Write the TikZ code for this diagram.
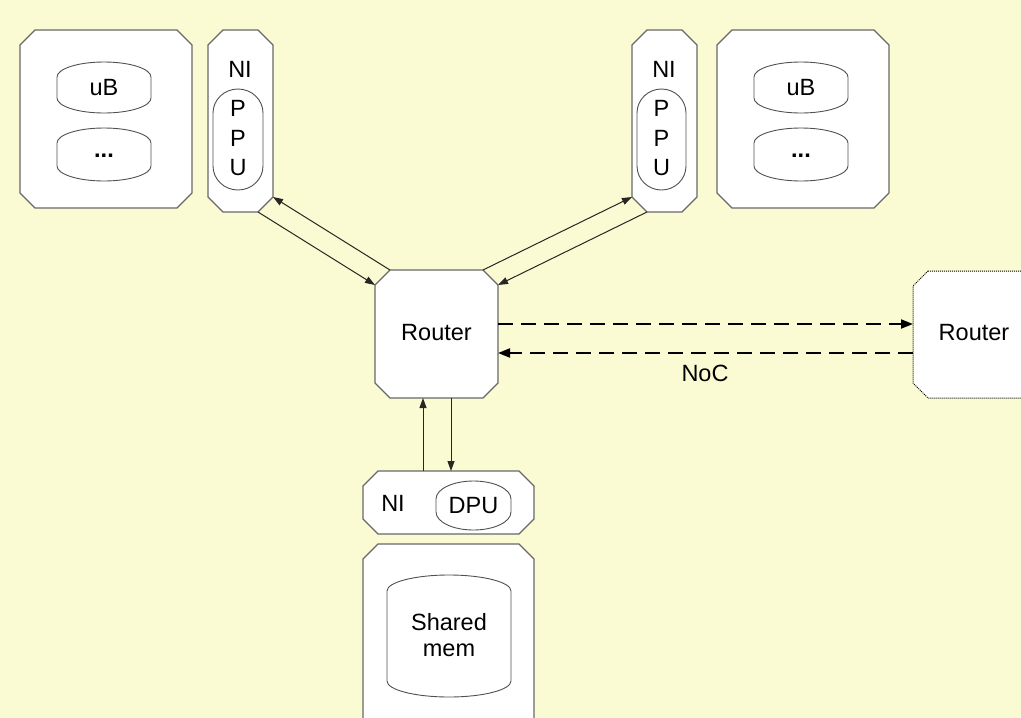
\documentclass[tikz,border=0pt]{standalone}
\usepackage{fontspec}
\setmainfont{Liberation Sans}
\usetikzlibrary{calc,arrows.meta}
\definecolor{bgyellow}{HTML}{FBFBD3}
\definecolor{edgegray}{HTML}{686868}
\definecolor{innergray}{HTML}{505050}
% chamfered box: [style] name x1 y1 x2 y2
\newcommand\chambox[6][]{%
  \node[inner sep=0pt,outer sep=0pt,minimum width={(#5-#3)*1pt},minimum height={(#6-#4)*1pt}] (#2) at ({(#3+#5)/2},{(#4+#6)/2}) {};
  \draw[boxline,#1] ($(#2.north west)+(15,0)$) -- ($(#2.north east)+(-15,0)$) -- ($(#2.north east)+(0,15)$)
     -- ($(#2.south east)+(0,-15)$) -- ($(#2.south east)+(-15,0)$) -- ($(#2.south west)+(15,0)$)
     -- ($(#2.south west)+(0,-15)$) -- ($(#2.north west)+(0,15)$) -- cycle;
}
% barrel shape: x1 y1 x2 y2 h  (elliptic top and bottom)
\newcommand\barrelshape[5]{%
  \draw[innerline] (#1,#2+#5) .. controls (#1,#2+0.448*#5) and ({#1+0.224*(#3-#1)},#2) .. ({(#1+#3)/2},#2)
     .. controls ({#3-0.224*(#3-#1)},#2) and (#3,#2+0.448*#5) .. (#3,#2+#5)
     -- (#3,#4-#5) .. controls (#3,#4-0.448*#5) and ({#3-0.224*(#3-#1)},#4) .. ({(#1+#3)/2},#4)
     .. controls ({#1+0.224*(#3-#1)},#4) and (#1,#4-0.448*#5) .. (#1,#4-#5) -- cycle;
}
\begin{document}
\begin{tikzpicture}[x=1pt,y=-1pt,
  boxline/.style={draw=edgegray,fill=white,line width=1.2pt,line join=miter},
  innerline/.style={draw=innergray,fill=white,line width=0.9pt},
  lbl/.style={inner sep=0pt,font=\fontsize{23.5}{28}\selectfont,align=center},
  arr/.style={draw=black!85,line width=1pt,-{Triangle[length=10pt,width=7pt]}},
  darr/.style={draw=black,line width=2pt,dash pattern=on 15pt off 8pt,-{Triangle[length=12pt,width=9pt]}},
  dottedline/.style={draw=black,line width=1pt,dash pattern=on 1pt off 1pt}]
\fill[bgyellow] (0,0) rectangle (1021,718);
\clip (0,0) rectangle (1021,718);

% top left
\chambox{b1}{20}{30}{192}{208}
\barrelshape{57}{62}{151}{113}{15}
\node[lbl] (ub1) at (104,88) {uB};
\barrelshape{57}{128}{151}{181}{15}
\node[lbl] (dots1) at (104,156) {\textbf{...}};
\chambox{ni1}{208}{30}{273}{212}
\node[lbl] (nit1) at (240,69) {NI};
\barrelshape{213}{89}{263}{190}{24}
\node[lbl,font=\fontsize{23.5}{29.5}\selectfont] (ppu1) at (238,138.5) {P\\P\\U};

% top right
\chambox{ni2}{632}{30}{697}{212}
\node[lbl] (nit2) at (664,69) {NI};
\barrelshape{637}{89}{686}{190}{24}
\node[lbl,font=\fontsize{23.5}{29.5}\selectfont] (ppu2) at (661.5,138.5) {P\\P\\U};
\chambox{b2}{717}{30}{889}{208}
\barrelshape{754}{62}{848}{113}{15}
\node[lbl] (ub2) at (801,88) {uB};
\barrelshape{754}{128}{848}{181}{15}
\node[lbl] (dots2) at (801,156) {\textbf{...}};

% routers
\chambox{r1}{375}{270}{498}{398}
\node[lbl] (rt1) at (436.5,333) {Router};
\chambox[dottedline]{r2}{913}{271}{1070}{398}
\node[lbl] (rt2) at (974,333) {Router};
\node[lbl] (noc) at (705,373) {NoC};

% bottom
\chambox{ni3}{363}{471}{534}{534}
\node[lbl] (nit3) at (393,503) {NI};
\barrelshape{436}{481}{511}{530}{18}
\node[lbl] (dpu) at (473.5,505.5) {DPU};
\chambox{sm}{363}{544}{534}{780}
\barrelshape{387}{575}{511}{697}{16}
\node[lbl,font=\fontsize{23.5}{26}\selectfont] (shm) at (449,635) {Shared\\mem};

% connectors
\draw[arr] ($(r1.north west)+(15,0)$) -- ($(ni1.south east)+(0,-15)$);
\draw[arr] ($(ni1.south east)+(-15,0)$) -- ($(r1.north west)+(0,15)$);
\draw[arr] ($(r1.north east)+(-15,0)$) -- ($(ni2.south west)+(0,-15)$);
\draw[arr] ($(ni2.south west)+(15,0)$) -- ($(r1.north east)+(0,15)$);
\draw[arr] ($(ni3.north west)+(60,0)$) -- ($(r1.south west)+(48,0)$);
\draw[arr] ($(r1.south west)+(76,0)$) -- ($(ni3.north west)+(88,0)$);
\draw[darr] ($(r1.north east)+(0,54)$) -- ($(r2.north west)+(0,53)$);
\draw[darr] ($(r2.north west)+(0,82)$) -- ($(r1.north east)+(0,83)$);
\end{tikzpicture}
\end{document}
